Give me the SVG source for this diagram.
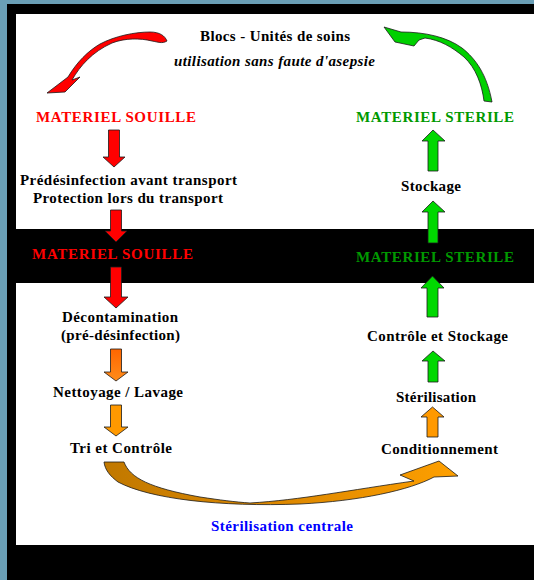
<svg xmlns="http://www.w3.org/2000/svg" width="534" height="580" viewBox="0 0 534 580">
<style>
text{font-family:"Liberation Serif","Times New Roman",serif;font-weight:bold;font-size:15px;fill:#000}
.it{font-style:italic}
.red{fill:#ff0000}
.grn{fill:#009900}
.blu{fill:#0000ff}
.arr{stroke:#1a1a1a;stroke-width:0.8;stroke-linejoin:miter}
</style>
<defs>
<linearGradient id="gOr" x1="0" y1="0" x2="0" y2="1">
<stop offset="0" stop-color="#ff6600"/><stop offset="1" stop-color="#ff8c1a"/>
</linearGradient>
<linearGradient id="gCurve" x1="100" y1="0" x2="460" y2="0" gradientUnits="userSpaceOnUse">
<stop offset="0" stop-color="#c07800"/><stop offset="0.55" stop-color="#e08a00"/><stop offset="1" stop-color="#ffa000"/>
</linearGradient>
</defs>
<rect x="0" y="0" width="534" height="580" fill="#000"/>
<rect x="0" y="0" width="7" height="580" fill="#6a9fb6"/>
<rect x="0" y="0" width="534" height="4" fill="#6a9fb6"/>
<rect x="16" y="14" width="518" height="215" fill="#fff"/>
<rect x="16" y="283" width="518" height="262" fill="#fff"/>

<g id="connectors">
<path class="arr" fill="#ff0000" d="M167 41 C165 36 160 32 150 32 C135 32 115 36 100 44 C88 51 77 62 68 77 L47 93 L65 92 L80 77 L72 80 C80 66 92 52 112 43 C125 38 140 38 152 41 C158 42 162 44 167 41 Z"/>
<path class="arr" fill="#00d000" d="M384 27 L401 32 C425 32 447 37 462 48 C476 59 487 75 492 102 L484 101 C482 85 476 68 464 57 C452 47 440 40 425 38 L419 40 L414 46 L395 42 Z"/>
<path class="arr" fill="#ff0000" d="M108.5 130 H119.5 V157 H125 L114 167 L103 157 H108.5 Z"/>
<path class="arr" fill="#ff0000" d="M110.5 210 H121.5 V231 H127 L116 242 L105 231 H110.5 Z"/>
<path class="arr" fill="#ff0000" d="M110.5 267 H121.5 V297 H128 L116 308 L104 297 H110.5 Z"/>
<path class="arr" fill="url(#gOr)" d="M110.5 349 H121.5 V372 H128 L116 381 L104 372 H110.5 Z"/>
<path class="arr" fill="#ff9900" d="M110.5 405 H121.5 V427 H128 L116 436 L104 427 H110.5 Z"/>
<path class="arr" fill="url(#gCurve)" d="M104 462 L124 462 C130 478 150 488 200 497 C220 500 235 502 250 503 C300 500 350 490 414 481 L400 475 L439 461 L458 476 L434 477 C410 490 360 501 300 504 C220 507 150 499 118 482 C110 476 105 470 104 462 Z"/>
<path class="arr" fill="#00d800" d="M428 171 H438 V141 H445 L433 130 L422 141 H428 Z"/>
<path class="arr" fill="#00d800" d="M428 243 H438 V212 H445 L433 201 L422 212 H428 Z"/>
<path class="arr" fill="#00d800" d="M427 317 H438 V288 H444 L432.5 276 L421 288 H427 Z"/>
<path class="arr" fill="#00d800" d="M428 382 H438 V361 H445 L433 351 L422 361 H428 Z"/>
<path class="arr" fill="#ff9900" d="M427 437 H438 V417 H444 L432.5 407 L421 417 H427 Z"/>
</g>

<g id="title"><text x="200" y="41" textLength="150" lengthAdjust="spacing">Blocs - Unités de soins</text>
<text class="it" x="174" y="66" textLength="201" lengthAdjust="spacing">utilisation sans faute d'asepsie</text></g>
<g id="souille1"><text class="red" x="36" y="122" textLength="160" lengthAdjust="spacing">MATERIEL SOUILLE</text></g>
<g id="sterile1"><text class="grn" x="356" y="122" textLength="158" lengthAdjust="spacing">MATERIEL STERILE</text></g>
<g id="predes"><text x="20" y="185" textLength="217" lengthAdjust="spacing">Prédésinfection avant transport</text>
<text x="33" y="203" textLength="190" lengthAdjust="spacing">Protection lors du transport</text></g>
<g id="souille2"><text class="red" x="32" y="259" textLength="161" lengthAdjust="spacing">MATERIEL SOUILLE</text></g>
<g id="sterile2"><text class="grn" x="356" y="262" textLength="158" lengthAdjust="spacing">MATERIEL STERILE</text></g>
<g id="stockage"><text x="401" y="191" textLength="60" lengthAdjust="spacing">Stockage</text></g>
<g id="decontam"><text x="62" y="322" textLength="116" lengthAdjust="spacing">Décontamination</text>
<text x="61" y="340" textLength="119" lengthAdjust="spacing">(pré-désinfection)</text></g>
<g id="nettoyage"><text x="53" y="397" textLength="130" lengthAdjust="spacing">Nettoyage / Lavage</text></g>
<g id="tri"><text x="70" y="453" textLength="102" lengthAdjust="spacing">Tri et Contrôle</text></g>
<g id="controle"><text x="367" y="341" textLength="141" lengthAdjust="spacing">Contrôle et Stockage</text></g>
<g id="sterilisation"><text x="396" y="402" textLength="80" lengthAdjust="spacing">Stérilisation</text></g>
<g id="conditionnement"><text x="381" y="454" textLength="117" lengthAdjust="spacing">Conditionnement</text></g>
<g id="centrale"><text class="blu" x="211" y="531" textLength="142" lengthAdjust="spacing">Stérilisation centrale</text></g>
</svg>
